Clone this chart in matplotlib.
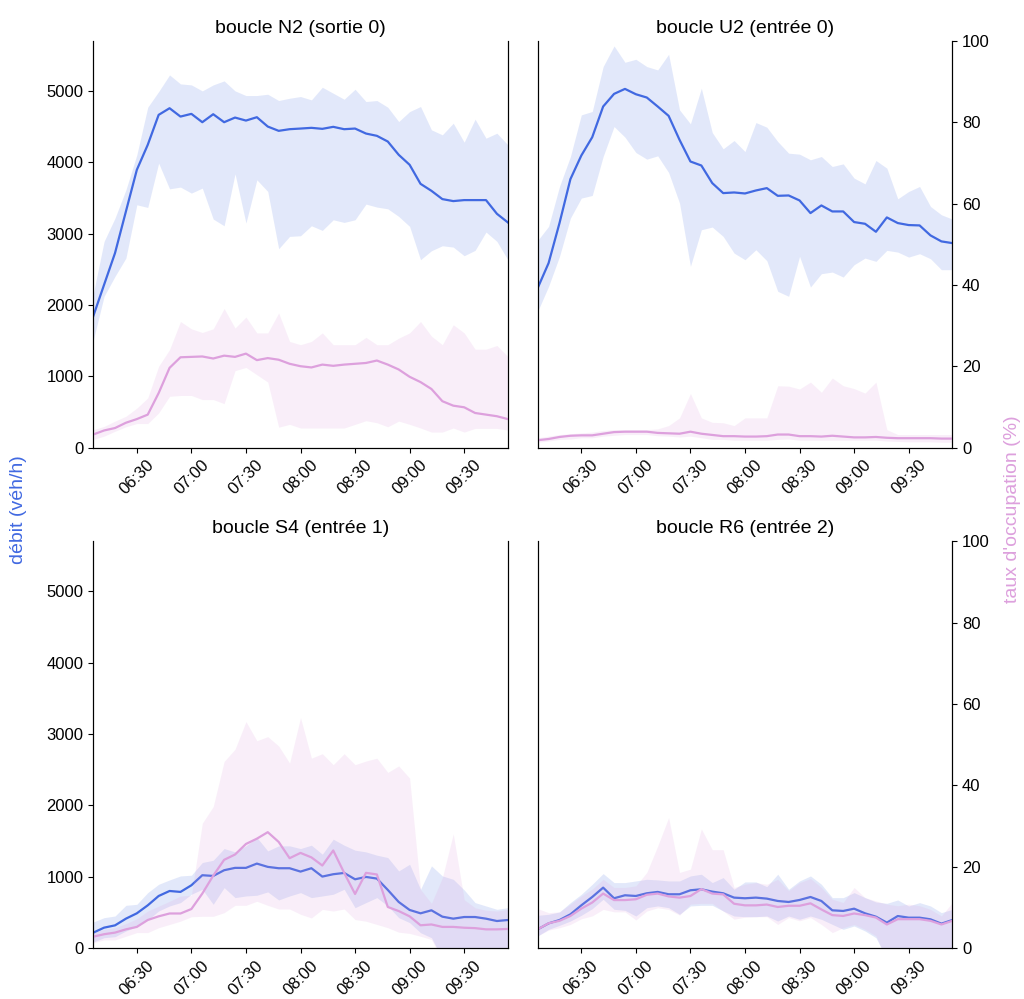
import pandas as pd
import matplotlib
matplotlib.use("Agg")
import matplotlib.pyplot as plt
import matplotlib.dates as mdates

plt.rcParams["font.family"] = ["Liberation Sans", "DejaVu Sans"]

# -------------------------------------------------------
# Time steps (6 min)
# -------------------------------------------------------
times = pd.date_range("2024-01-01 06:06", "2024-01-01 09:54", freq="6min")

# -------------------------------------------------------
# boucle N2 (sortie 0)
# -------------------------------------------------------
n2_debit = [1839, 2283, 2726, 3310, 3893, 4244, 4664, 4757, 4640, 4678, 4561, 4673, 4561,
            4626, 4584, 4631, 4500, 4440, 4463, 4472, 4482, 4468, 4496, 4463, 4472, 4402,
            4370, 4290, 4104, 3964, 3697, 3599, 3483, 3455, 3469, 3469, 3469, 3277, 3156]
n2_debit_hi = [2150, 2890, 3217, 3613, 4104, 4771, 4990, 5224, 5098, 5084, 5000, 5084, 5140,
               5000, 4935, 4935, 4953, 4865, 4897, 4921, 4874, 5051, 4967, 4883, 5023, 4851,
               4865, 4771, 4570, 4710, 4781, 4454, 4384, 4547, 4281, 4603, 4337, 4407, 4244]
n2_debit_lo = [1500, 2120, 2400, 2656, 3403, 3366, 3987, 3627, 3651, 3567, 3637, 3203, 3109,
               3837, 3147, 3753, 3590, 2787, 2960, 2969, 3109, 3044, 3193, 3156, 3193, 3413,
               3371, 3347, 3240, 3100, 2633, 2759, 2829, 2810, 2689, 2764, 3021, 2890, 2633]
n2_occ = [3.2, 4.2, 4.8, 6.1, 7.0, 8.1, 13.4, 19.6, 22.2, 22.3, 22.4, 21.9, 22.6, 22.3, 23.1,
          21.5, 22.0, 21.6, 20.6, 20.0, 19.7, 20.4, 20.1, 20.4, 20.6, 20.8, 21.4, 20.4, 19.2,
          17.4, 16.1, 14.4, 11.4, 10.3, 9.9, 8.5, 8.1, 7.7, 7.0]
n2_occ_hi = [4.4, 5.2, 6.5, 7.7, 9.7, 12.2, 20.0, 24.1, 31.0, 29.2, 28.3, 29.2, 34.2, 29.4,
             32.1, 28.2, 28.2, 33.1, 26.1, 25.3, 26.1, 28.2, 25.3, 25.3, 25.3, 27.1, 25.3,
             25.3, 26.9, 28.2, 31.0, 27.4, 25.3, 30.2, 28.2, 24.2, 24.2, 25.1, 22.4]
n2_occ_lo = [2.0, 2.8, 4.0, 5.1, 5.9, 5.9, 8.5, 12.6, 12.8, 12.8, 11.8, 11.8, 10.8, 18.9,
             19.7, 17.9, 16.1, 5.0, 5.7, 4.8, 4.8, 4.8, 4.8, 4.8, 5.7, 6.6, 6.1, 5.1, 6.5,
             5.7, 4.8, 3.8, 3.8, 4.8, 3.8, 4.7, 4.7, 4.7, 4.3]

# -------------------------------------------------------
# boucle U2 (entrée 0)
# -------------------------------------------------------
u2_debit = [2236, 2586, 3147, 3763, 4094, 4351, 4781, 4958, 5028, 4953, 4907, 4781, 4650,
            4314, 4010, 3954, 3707, 3567, 3576, 3562, 3604, 3637, 3529, 3534, 3464, 3287,
            3394, 3310, 3310, 3161, 3137, 3025, 3226, 3147, 3119, 3114, 2974, 2890, 2866]
u2_debit_hi = [2904, 3100, 3660, 4080, 4664, 4711, 5341, 5630, 5401, 5443, 5341, 5294, 5513,
               4734, 4538, 5037, 4416, 4188, 4304, 4150, 4556, 4491, 4290, 4127, 4113, 4034,
               4080, 3940, 3977, 3777, 3697, 4024, 3917, 3487, 3590, 3660, 3380, 3263, 3203]
u2_debit_lo = [1909, 2260, 2680, 3217, 3497, 3534, 4080, 4500, 4351, 4136, 4043, 4089, 3856,
               3427, 2540, 3053, 3091, 2960, 2726, 2633, 2773, 2619, 2190, 2120, 2680, 2250,
               2437, 2460, 2390, 2563, 2656, 2610, 2764, 2740, 2670, 2717, 2647, 2493, 2493]
u2_occ = [1.8, 2.1, 2.6, 2.9, 3.0, 3.0, 3.4, 3.8, 3.9, 3.9, 3.9, 3.6, 3.5, 3.4, 3.9, 3.4,
          3.1, 2.8, 2.8, 2.7, 2.7, 2.8, 3.2, 3.2, 2.8, 2.8, 2.7, 2.9, 2.7, 2.5, 2.5, 2.6,
          2.4, 2.3, 2.3, 2.3, 2.3, 2.2, 2.2]
u2_occ_hi = [2.4, 2.8, 3.2, 3.4, 3.6, 3.8, 4.2, 4.4, 4.4, 4.4, 4.4, 4.6, 5.4, 7.3, 13.3,
             7.3, 6.2, 6.1, 5.4, 7.3, 7.3, 7.3, 15.2, 15.1, 14.4, 16.1, 13.6, 17.1, 15.2,
             14.5, 13.4, 16.1, 4.4, 3.2, 3.2, 3.2, 3.2, 3.2, 3.2]
u2_occ_lo = [1.3, 1.6, 2.0, 2.1, 2.4, 2.4, 2.8, 3.0, 3.2, 3.2, 3.2, 2.9, 2.8, 2.6, 2.8, 2.4,
             2.0, 2.0, 1.8, 1.8, 1.8, 1.8, 2.0, 2.1, 1.8, 1.8, 1.8, 1.8, 1.8, 1.8, 1.8, 1.8,
             1.6, 1.5, 1.4, 1.4, 1.4, 1.3, 1.3]

# -------------------------------------------------------
# boucle S4 (entrée 1)
# -------------------------------------------------------
s4_debit = [215, 286, 318, 412, 487, 599, 730, 800, 787, 880, 1021, 1011, 1091, 1124, 1124,
            1184, 1138, 1119, 1119, 1072, 1119, 1002, 1035, 1053, 964, 997, 974, 815, 646,
            534, 487, 529, 440, 412, 435, 435, 412, 379, 393]
s4_debit_hi = [365, 426, 449, 599, 613, 777, 894, 955, 1011, 1021, 1199, 1231, 1395, 1348,
               1433, 1550, 1362, 1433, 1433, 1395, 1442, 1316, 1526, 1442, 1372, 1348, 1302,
               1269, 1081, 1175, 824, 1152, 1011, 964, 815, 637, 590, 543, 566]
s4_debit_lo = [84, 145, 159, 239, 300, 393, 520, 590, 637, 754, 824, 613, 847, 707, 730, 740,
               787, 674, 730, 777, 707, 730, 754, 824, 566, 637, 707, 590, 426, 356, 215, 145,
               -150, -150, -150, -150, -150, -150, -150]
s4_occ = [2.8, 3.4, 3.8, 4.6, 5.2, 6.9, 7.8, 8.5, 8.5, 9.6, 13.4, 17.8, 21.7, 23.0, 25.6,
          26.9, 28.5, 26.1, 22.1, 23.4, 22.3, 20.3, 24.0, 18.5, 13.3, 18.5, 18.1, 10.1, 9.1,
          7.8, 5.6, 5.8, 5.2, 5.2, 5.0, 4.9, 4.6, 4.6, 4.7]
s4_occ_hi = [3.8, 4.6, 5.0, 6.0, 7.2, 9.1, 10.3, 11.5, 12.8, 13.0, 30.7, 34.8, 45.9, 48.9,
             55.7, 51.0, 52.0, 49.7, 45.5, 56.7, 46.7, 47.8, 45.1, 47.8, 45.1, 46.0, 46.7,
             43.2, 44.8, 41.8, 14.4, 11.0, 17.3, 28.1, 11.9, 9.9, 9.3, 9.1, 9.5]
s4_occ_lo = [1.3, 2.0, 2.0, 2.9, 3.8, 3.8, 5.0, 5.8, 6.6, 7.7, 7.8, 7.8, 8.7, 10.5, 10.5,
             11.5, 10.5, 9.6, 9.6, 8.3, 7.4, 9.5, 9.1, 9.6, 7.0, 6.6, 5.8, 5.0, 3.9, 3.6, 2.9,
             2.1, -3, -3, -3, -3, -3, -3, -3]

# -------------------------------------------------------
# boucle R6 (entrée 2)
# -------------------------------------------------------
r6_debit = [262, 346, 393, 473, 599, 716, 847, 698, 740, 730, 768, 787, 754, 754, 810, 824,
            791, 768, 707, 698, 707, 693, 660, 646, 674, 716, 660, 529, 520, 552, 487, 440,
            356, 449, 426, 426, 403, 342, 393]
r6_debit_hi = [459, 473, 506, 637, 754, 894, 1044, 918, 918, 941, 964, 955, 941, 941, 1011,
               1035, 918, 988, 824, 927, 927, 861, 1035, 824, 941, 1011, 894, 707, 707, 777,
               707, 646, 627, 674, 590, 637, 590, 496, 543]
r6_debit_lo = [169, 262, 318, 379, 459, 552, 684, 543, 529, 449, 566, 590, 566, 473, 590, 599,
               599, 520, 449, 440, 440, 449, 379, 449, 403, 449, 403, 332, 262, 309, 239, 145,
               -150, -150, -150, -150, -150, -150, -150]
r6_occ = [4.6, 6.1, 6.7, 7.9, 9.7, 11.2, 13.4, 11.8, 11.8, 12.0, 13.1, 13.4, 12.7, 12.4, 12.8,
          14.5, 13.4, 13.2, 10.9, 10.5, 10.5, 10.7, 10.1, 10.4, 10.4, 11.0, 9.5, 8.1, 7.9,
          8.5, 8.1, 7.5, 5.8, 7.1, 7.1, 7.1, 6.7, 5.8, 6.7]
r6_occ_hi = [9.7, 8.7, 8.9, 10.8, 12.8, 14.5, 16.9, 14.9, 14.9, 15.3, 18.6, 25.1, 32.1, 18.6,
             19.4, 29.3, 24.2, 24.2, 14.9, 15.7, 16.1, 15.7, 16.9, 14.1, 16.1, 17.1, 14.9,
             12.0, 11.2, 14.9, 12.4, 11.6, 10.8, 10.4, 10.8, 10.4, 9.5, 7.9, 11.2]
r6_occ_lo = [3.0, 4.4, 5.0, 5.8, 7.2, 7.9, 9.5, 8.9, 8.9, 6.9, 9.1, 9.9, 9.5, 8.1, 10.8,
             11.0, 11.0, 9.1, 7.1, 7.6, 7.7, 7.7, 5.8, 7.5, 6.7, 7.5, 5.8, 3.8, 5.0, 5.8, 4.6,
             3.0, -3, -3, -3, -3, -3, -3, -3]

loops = [
    ("boucle N2 (sortie 0)", n2_debit, n2_debit_lo, n2_debit_hi, n2_occ, n2_occ_lo, n2_occ_hi),
    ("boucle U2 (entrée 0)", u2_debit, u2_debit_lo, u2_debit_hi, u2_occ, u2_occ_lo, u2_occ_hi),
    ("boucle S4 (entrée 1)", s4_debit, s4_debit_lo, s4_debit_hi, s4_occ, s4_occ_lo, s4_occ_hi),
    ("boucle R6 (entrée 2)", r6_debit, r6_debit_lo, r6_debit_hi, r6_occ, r6_occ_lo, r6_occ_hi),
]

# -------------------------------------------------------
# Plot
# -------------------------------------------------------
fig, axes = plt.subplots(2, 2, figsize=(10.24, 9.99))
fig.subplots_adjust(left=0.091, right=0.93, top=0.959, bottom=0.051,
                    wspace=0.072, hspace=0.231)

for k, (title, deb, deb_lo, deb_hi, occ, occ_lo, occ_hi) in enumerate(loops):
    ax = axes.flat[k]
    ax2 = ax.twinx()

    ax.fill_between(times, deb_lo, deb_hi, color="royalblue", alpha=0.15, lw=0)
    ax.plot(times, deb, color="royalblue", lw=1.6)

    ax2.fill_between(times, occ_lo, occ_hi, color="plum", alpha=0.17, lw=0)
    ax2.plot(times, occ, color="plum", lw=1.6)

    ax.set_ylim(0, 5700)
    ax2.set_ylim(0, 100)
    ax.set_xlim(times[0], times[-1])
    ax.set_title(title, fontsize=14)

    ax.xaxis.set_major_locator(mdates.MinuteLocator(byminute=[0, 30]))
    ax.xaxis.set_major_formatter(mdates.DateFormatter("%H:%M"))
    plt.setp(ax.get_xticklabels(), rotation=45)

    ax.spines["top"].set_visible(False)
    ax2.spines["top"].set_visible(False)
    ax.tick_params(labelsize=12)
    ax2.tick_params(labelsize=12)

    if k % 2 == 0:
        ax.set_yticks([0, 1000, 2000, 3000, 4000, 5000])
        ax2.tick_params(axis="y", right=False, labelright=False)
    else:
        ax.tick_params(axis="y", left=False, labelleft=False)
        ax2.set_yticks([0, 20, 40, 60, 80, 100])

fig.text(0.018, 0.49, "débit (véh/h)", color="royalblue", rotation=90,
         ha="center", va="center", fontsize=14)
fig.text(0.989, 0.49, "taux d'occupation (%)", color="plum", rotation=90,
         ha="center", va="center", fontsize=14)

plt.savefig("out.png", dpi=100)
